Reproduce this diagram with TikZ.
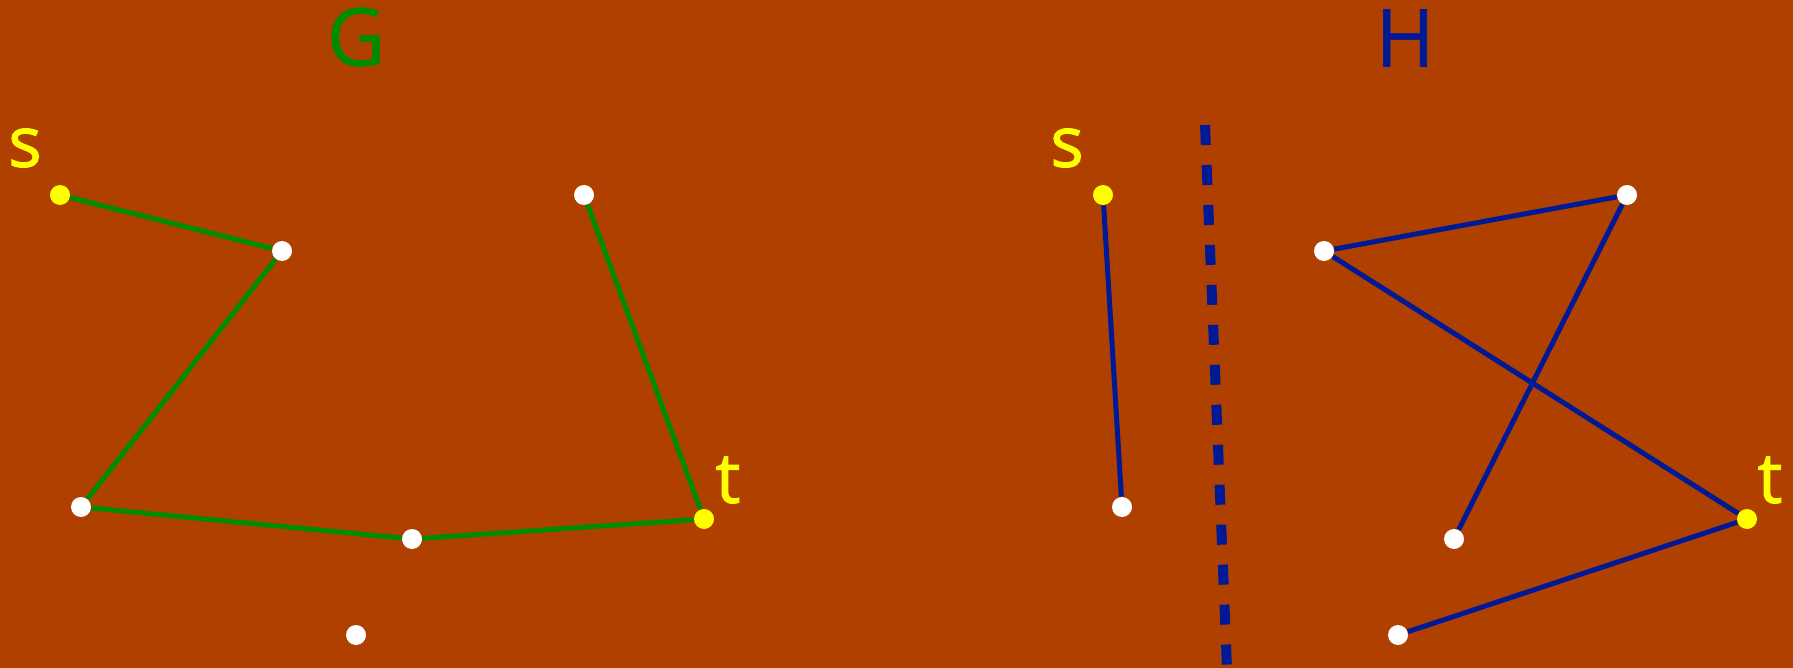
\documentclass[tikz,border=0pt]{standalone}
\usepackage{fontspec}
\setmainfont{Open Sans}
\newfontfamily\termfont[FakeBold=1.5]{Open Sans}
\newfontfamily\titlefont[FakeBold=0.8]{Open Sans}
\usepackage{xcolor}
\usetikzlibrary{positioning}

\definecolor{bgbrown}{RGB}{176,64,0}
\definecolor{ggreen}{RGB}{0,140,0}
\definecolor{hblue}{RGB}{0,26,150}
\definecolor{tyellow}{RGB}{255,255,0}

\begin{document}
\begin{tikzpicture}[
  x=0.5pt, y=-0.5pt,
  vtx/.style={circle, fill=#1, draw=none, inner sep=0pt, minimum size=10pt},
  vtx/.default=white,
  gedge/.style={ggreen, line width=2.5pt},
  hedge/.style={hblue, line width=2.5pt},
  term/.style={text=tyellow, font=\termfont\fontsize{35}{35}\selectfont, inner sep=0pt},
  title/.style={text=#1, font=\titlefont\fontsize{40}{40}\selectfont, inner sep=0pt}
]

% Background and frame
\fill[bgbrown] (0,0) rectangle (1793,668);
\useasboundingbox (0,0) rectangle (1793,668);
\clip (0,0) rectangle (1793,668);

% Graph G
\node[title=ggreen] (gname) at (356,37) {G};
\node[vtx=tyellow] (gs) at (60,195) {};
\node[vtx]         (ga) at (282,251) {};
\node[vtx]         (gb) at (81,507) {};
\node[vtx]         (gc) at (412,539) {};
\node[vtx=tyellow] (gt) at (704,519) {};
\node[vtx]         (gd) at (584,195) {};
\node[vtx]         (ge) at (356,635) {};
\node[term] (gslbl) at (25,148) {s};
\node[term] (gtlbl) at (728,480) {t};

\draw[gedge] (gs) -- (ga);
\draw[gedge] (ga) -- (gb);
\draw[gedge] (gb) -- (gc);
\draw[gedge] (gc) -- (gt);
\draw[gedge] (gt) -- (gd);

% Separator
\coordinate (septop) at (1205,125);
\coordinate (sepbot) at (1227,668);
\draw[hblue, line width=5pt, dash pattern=on 10pt off 10pt] (septop) -- (sepbot);

% Graph H
\node[title=hblue] (hname) at (1405,38) {H};
\node[vtx=tyellow] (hs) at (1103,195) {};
\node[vtx]         (hu) at (1122,507) {};
\node[vtx]         (hx) at (1324,251) {};
\node[vtx]         (hy) at (1627,195) {};
\node[vtx]         (hv) at (1454,539) {};
\node[vtx]         (hw) at (1398,635) {};
\node[vtx=tyellow] (ht) at (1747,519) {};
\node[term] (hslbl) at (1067,148) {s};
\node[term] (htlbl) at (1770,480) {t};

\draw[hedge] (hs) -- (hu);
\draw[hedge] (hx) -- (hy);
\draw[hedge] (hx) -- (ht);
\draw[hedge] (hy) -- (hv);
\draw[hedge] (hw) -- (ht);

\end{tikzpicture}
\end{document}
